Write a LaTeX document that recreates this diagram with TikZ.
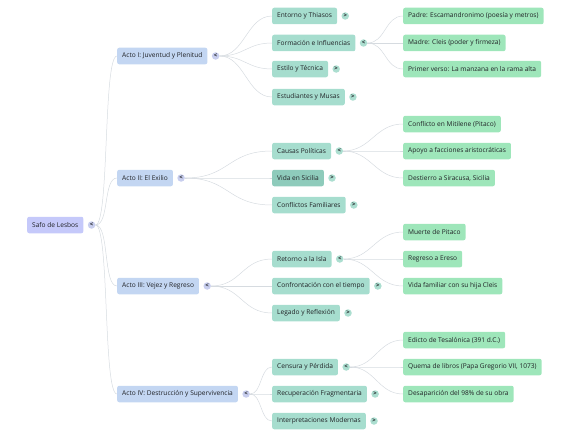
\documentclass[tikz,border=0pt]{standalone}
\usepackage{fontspec}
\setmainfont{Open Sans}
\usepackage{tikz}

\definecolor{ink}{RGB}{32,34,38}
\definecolor{rootfill}{RGB}{197,201,250}
\definecolor{actofill}{RGB}{195,214,242}
\definecolor{temafill}{RGB}{166,221,206}
\definecolor{temadark}{RGB}{142,203,187}
\definecolor{hechofill}{RGB}{158,230,186}
\definecolor{linkgray}{RGB}{214,219,224}
\definecolor{knobblue}{RGB}{200,206,238}
\definecolor{knobteal}{RGB}{172,222,208}

\begin{document}
\begin{tikzpicture}[x=1pt, y=-1pt,
    box/.style={rounded corners=2pt, anchor=west, minimum height=16.5pt, inner xsep=5pt,
        inner ysep=0pt, text=ink, font=\fontsize{6.6}{7.5}\selectfont},
    root/.style={box, fill=rootfill},
    acto/.style={box, fill=actofill},
    tema/.style={box, fill=temafill},
    hecho/.style={box, fill=hechofill},
    knob/.style={circle, inner sep=0pt, minimum size=7.5pt, text=ink, font=\fontsize{6}{6}\selectfont\bfseries},
    link/.style={draw=linkgray, line width=0.5pt}]
    \useasboundingbox (0,0) rectangle (572,436);

    % root and acts
    \node[root] (safo) at (27,225) {Safo de Lesbos};
    \node[acto] (actoI) at (117,56) {Acto I: Juventud y Plenitud};
    \node[acto] (actoII) at (117,178) {Acto II: El Exilio};
    \node[acto] (actoIII) at (117,286) {Acto III: Vejez y Regreso};
    \node[acto] (actoIV) at (117,394) {Acto IV: Destrucción y Supervivencia};

    % themes
    \node[tema] (entorno) at (272,16) {Entorno y Thiasos};
    \node[tema] (formacion) at (272,43) {Formación e Influencias};
    \node[tema] (estilo) at (272,69) {Estilo y Técnica};
    \node[tema] (estudiantes) at (272,97) {Estudiantes y Musas};
    \node[tema] (causas) at (272,151) {Causas Políticas};
    \node[tema, fill=temadark] (sicilia) at (272,178) {Vida en Sicilia};
    \node[tema] (familiares) at (272,205) {Conflictos Familiares};
    \node[tema] (retorno) at (272,259) {Retorno a la Isla};
    \node[tema] (confrontacion) at (272,286) {Confrontación con el tiempo};
    \node[tema] (legado) at (272,313) {Legado y Reflexión};
    \node[tema] (censura) at (272,367) {Censura y Pérdida};
    \node[tema] (recuperacion) at (272,394) {Recuperación Fragmentaria};
    \node[tema] (modernas) at (272,421) {Interpretaciones Modernas};

    % facts
    \node[hecho] (padre) at (403,16) {Padre: Escamandronimo (poesía y metros)};
    \node[hecho] (madre) at (403,43) {Madre: Cleis (poder y firmeza)};
    \node[hecho] (verso) at (403,69) {Primer verso: La manzana en la rama alta};
    \node[hecho] (mitilene) at (403,124) {Conflicto en Mitilene (Pitaco)};
    \node[hecho] (apoyo) at (403,151) {Apoyo a facciones aristocráticas};
    \node[hecho] (destierro) at (403,178) {Destierro a Siracusa, Sicilia};
    \node[hecho] (muerte) at (403,232) {Muerte de Pitaco};
    \node[hecho] (regreso) at (403,259) {Regreso a Ereso};
    \node[hecho] (familia) at (403,286) {Vida familiar con su hija Cleis};
    \node[hecho] (edicto) at (403,340) {Edicto de Tesalónica (391 d.C.)};
    \node[hecho] (quema) at (403,367) {Quema de libros (Papa Gregorio VII, 1073)};
    \node[hecho] (desaparicion) at (403,394) {Desaparición del 98\% de su obra};

    % toggles
    \node[knob, fill=knobblue] (ksafo) at ([xshift=8]safo.east) {<};
    \node[knob, fill=knobblue] (kactoI) at ([xshift=8]actoI.east) {<};
    \node[knob, fill=knobblue] (kactoII) at ([xshift=8]actoII.east) {<};
    \node[knob, fill=knobblue] (kactoIII) at ([xshift=8]actoIII.east) {<};
    \node[knob, fill=knobblue] (kactoIV) at ([xshift=8]actoIV.east) {<};
    \node[knob, fill=knobteal] (kentorno) at ([xshift=8]entorno.east) {>};
    \node[knob, fill=knobteal] (kformacion) at ([xshift=8]formacion.east) {<};
    \node[knob, fill=knobteal] (kestilo) at ([xshift=8]estilo.east) {>};
    \node[knob, fill=knobteal] (kestudiantes) at ([xshift=8]estudiantes.east) {>};
    \node[knob, fill=knobteal] (kcausas) at ([xshift=8]causas.east) {<};
    \node[knob, fill=knobteal] (ksicilia) at ([xshift=8]sicilia.east) {>};
    \node[knob, fill=knobteal] (kfamiliares) at ([xshift=8]familiares.east) {>};
    \node[knob, fill=knobteal] (kretorno) at ([xshift=8]retorno.east) {<};
    \node[knob, fill=knobteal] (kconfrontacion) at ([xshift=8]confrontacion.east) {>};
    \node[knob, fill=knobteal] (klegado) at ([xshift=8]legado.east) {>};
    \node[knob, fill=knobteal] (kcensura) at ([xshift=8]censura.east) {<};
    \node[knob, fill=knobteal] (krecuperacion) at ([xshift=8]recuperacion.east) {>};
    \node[knob, fill=knobteal] (kmodernas) at ([xshift=8]modernas.east) {>};

    % links
    \draw[link] (ksafo.east) .. controls +(14,0) and +(-14,0) .. (actoI.west);
    \draw[link] (ksafo.east) .. controls +(14,0) and +(-14,0) .. (actoII.west);
    \draw[link] (ksafo.east) .. controls +(14,0) and +(-14,0) .. (actoIII.west);
    \draw[link] (ksafo.east) .. controls +(14,0) and +(-14,0) .. (actoIV.west);

    \draw[link] (kactoI.east) .. controls +(25,0) and +(-25,0) .. (entorno.west);
    \draw[link] (kactoI.east) .. controls +(25,0) and +(-25,0) .. (formacion.west);
    \draw[link] (kactoI.east) .. controls +(25,0) and +(-25,0) .. (estilo.west);
    \draw[link] (kactoI.east) .. controls +(25,0) and +(-25,0) .. (estudiantes.west);
    \draw[link] (kactoII.east) .. controls +(45,0) and +(-45,0) .. (causas.west);
    \draw[link] (kactoII.east) .. controls +(45,0) and +(-45,0) .. (sicilia.west);
    \draw[link] (kactoII.east) .. controls +(45,0) and +(-45,0) .. (familiares.west);
    \draw[link] (kactoIII.east) .. controls +(30,0) and +(-30,0) .. (retorno.west);
    \draw[link] (kactoIII.east) .. controls +(30,0) and +(-30,0) .. (confrontacion.west);
    \draw[link] (kactoIII.east) .. controls +(30,0) and +(-30,0) .. (legado.west);
    \draw[link] (kactoIV.east) .. controls +(12,0) and +(-12,0) .. (censura.west);
    \draw[link] (kactoIV.east) .. controls +(12,0) and +(-12,0) .. (recuperacion.west);
    \draw[link] (kactoIV.east) .. controls +(12,0) and +(-12,0) .. (modernas.west);

    \draw[link] (kformacion.east) .. controls +(18,0) and +(-18,0) .. (padre.west);
    \draw[link] (kformacion.east) .. controls +(18,0) and +(-18,0) .. (madre.west);
    \draw[link] (kformacion.east) .. controls +(18,0) and +(-18,0) .. (verso.west);
    \draw[link] (kcausas.east) .. controls +(28,0) and +(-28,0) .. (mitilene.west);
    \draw[link] (kcausas.east) .. controls +(28,0) and +(-28,0) .. (apoyo.west);
    \draw[link] (kcausas.east) .. controls +(28,0) and +(-28,0) .. (destierro.west);
    \draw[link] (kretorno.east) .. controls +(28,0) and +(-28,0) .. (muerte.west);
    \draw[link] (kretorno.east) .. controls +(28,0) and +(-28,0) .. (regreso.west);
    \draw[link] (kretorno.east) .. controls +(28,0) and +(-28,0) .. (familia.west);
    \draw[link] (kcensura.east) .. controls +(25,0) and +(-25,0) .. (edicto.west);
    \draw[link] (kcensura.east) .. controls +(25,0) and +(-25,0) .. (quema.west);
    \draw[link] (kcensura.east) .. controls +(25,0) and +(-25,0) .. (desaparicion.west);
\end{tikzpicture}
\end{document}
